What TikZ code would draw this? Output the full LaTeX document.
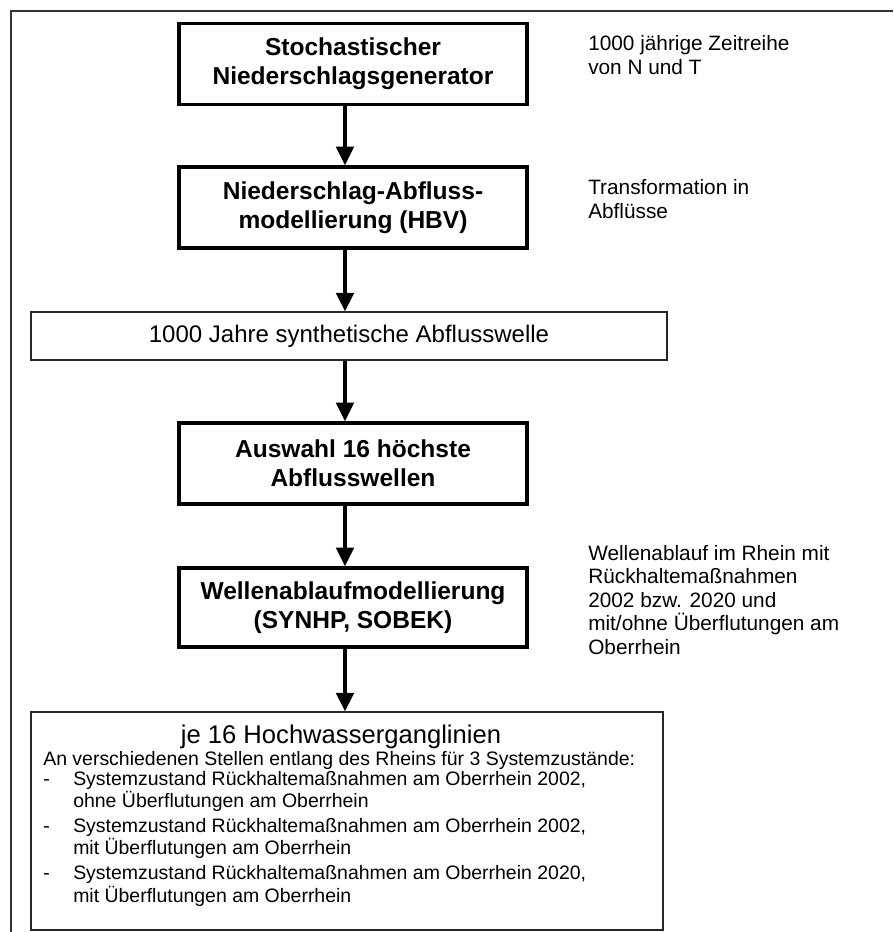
\documentclass[tikz,border=0pt]{standalone}
\usepackage{fontspec}
\setmainfont{Liberation Sans}
\usetikzlibrary{arrows.meta}
\newdimen\px \px=0.75pt

\tikzset{
  procbox/.style={draw, line width=2.5pt, minimum width=348\px, minimum height=81\px,
    align=center, inner sep=0pt, font=\fontsize{18.4}{21.75}\selectfont\bfseries},
  databox/.style={draw, line width=0.8pt, black!85, text=black, inner sep=0pt,
    font=\fontsize{18}{21}\selectfont},
  note/.style={anchor=base west, align=left, inner sep=0pt,
    font=\fontsize{15.6}{17.6}\selectfont},
  flow/.style={line width=3pt, -{Triangle[width=13pt,length=14pt]}},
}

\begin{document}
\begin{tikzpicture}[x=0.75pt, y=-0.75pt]
  \useasboundingbox (0,0) rectangle (893,932);
  % frame, cut off at right and bottom
  \draw[line width=1pt, black!80] (893,11) -- (11,11) -- (11,932);
  \coordinate (spine) at (345,0);

  % process chain
  \node[procbox] (gen) at (353,64) {Stochastischer\\Niederschlagsgenerator};
  \node[procbox] (hbv) at (353,207.5) {Niederschlag-Abfluss-\\modellierung (HBV)};
  \node[databox, minimum width=636\px, minimum height=48\px] (syn) at (349,336)
    {1000 Jahre synthetische Abflusswelle};
  \node[procbox] (sel) at (353,463.5) {Auswahl 16 höchste\\Abflusswellen};
  \node[procbox, minimum height=79\px] (sob) at (353,607.5)
    {Wellenablaufmodellierung\\(SYNHP, SOBEK)};
  \node[databox, minimum width=632\px, minimum height=218\px] (hw) at (347,821) {};
  \node[databox, draw=none, anchor=base, font=\fontsize{19.2}{22}\selectfont] (hwtitle)
    at (341,743) {je 16 Hochwasserganglinien};
  \node[anchor=base west, inner sep=0pt, font=\fontsize{14.6}{15}\selectfont]
    (hwlist) at (43,765) {%
    \begin{tabular}[t]{@{}p{22.5pt}@{}l@{}}
      \multicolumn{2}{@{}l@{}}{An verschiedenen Stellen entlang des Rheins für 3 Systemzustände:}\\
      - & Systemzustand Rückhaltemaßnahmen am Oberrhein 2002,\\
        & ohne Überflutungen am Oberrhein\\[3.75pt]
      - & Systemzustand Rückhaltemaßnahmen am Oberrhein 2002,\\
        & mit Überflutungen am Oberrhein\\[3.75pt]
      - & Systemzustand Rückhaltemaßnahmen am Oberrhein 2020,\\
        & mit Überflutungen am Oberrhein
    \end{tabular}};

  % notes on the right (base = last line)
  \node[note] (gennote) at (588,74) {1000 jährige Zeitreihe\\von N und T};
  \node[note] (hbvnote) at (588,218) {Transformation in\\Abflüsse};
  \node[note] (sobnote) at (588,654) {Wellenablauf im Rhein mit\\Rückhaltemaßnahmen\\%
    2002 bzw. 2020 und\\mit/ohne Überflutungen am\\Oberrhein};

  % arrows
  \draw[flow] (gen.south -| spine) -- (hbv.north -| spine);
  \draw[flow] (hbv.south -| spine) -- (syn.north -| spine);
  \draw[flow] (syn.south -| spine) -- (sel.north -| spine);
  \draw[flow] (sel.south -| spine) -- (sob.north -| spine);
  \draw[flow] (sob.south -| spine) -- (hw.north -| spine);
\end{tikzpicture}
\end{document}
